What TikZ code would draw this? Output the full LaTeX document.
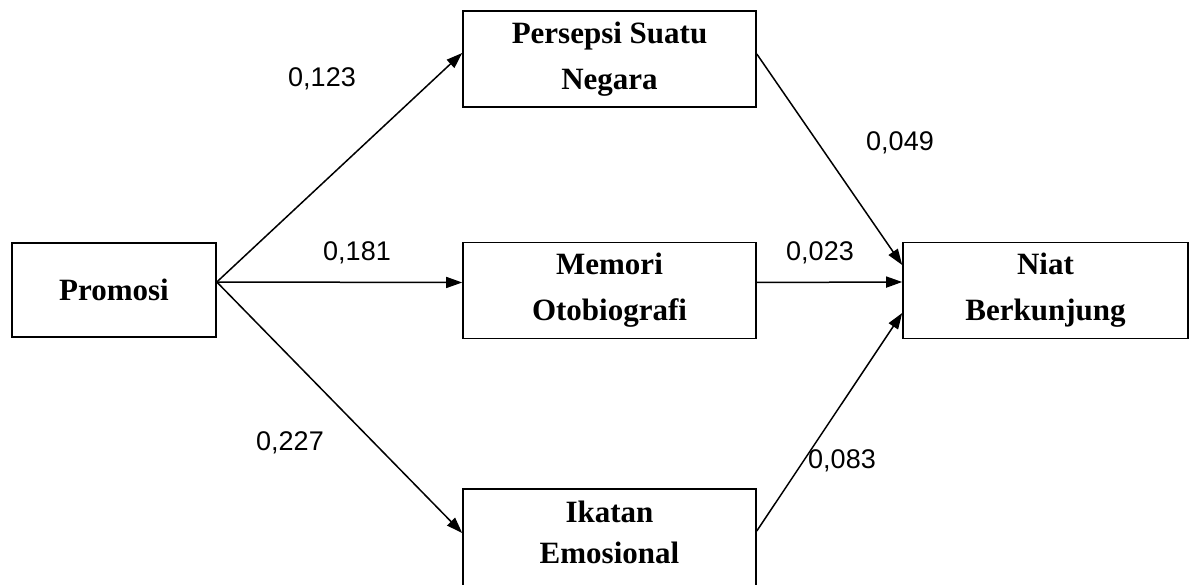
\documentclass[tikz,border=0pt]{standalone}
\usepackage{fontspec}
\setmainfont{Liberation Serif}
\newfontfamily\numfont{Liberation Sans}
\usetikzlibrary{arrows.meta}
\begin{document}
\begin{tikzpicture}[x=1pt,y=-1pt,
  box/.style={draw, line width=1.6pt, minimum width=293pt, minimum height=96pt, inner sep=0pt, align=center, font=\fontsize{31}{46}\selectfont\bfseries},
  boxtext/.style={inner sep=0pt, align=center, font=\fontsize{31}{41}\selectfont\bfseries},
  conn/.style={line width=1.5pt, -{Triangle[length=16pt,width=11pt]}},
  lbl/.style={font=\numfont\fontsize{27}{30}\selectfont, inner sep=0pt}]
\useasboundingbox (0,0) rectangle (1189,585);
\clip (0,0) rectangle (1189,585);
\node[box, minimum width=204pt, minimum height=94pt] (p) at (114,290) {Promosi};
\node[box] (ps) at (609.5,59) {Persepsi Suatu\\Negara};
\node[box] (m) at (609.5,290.5) {Memori\\Otobiografi};
\node[box, minimum width=285pt] (n) at (1045.5,290.5) {Niat\\Berkunjung};
\node[box, minimum height=100pt] (ik) at (609.5,539) {};
\node[boxtext] (ikt) at (609.5,532) {Ikatan\\Emosional};
\coordinate (pst) at ([yshift=8pt]p.east);
\draw[conn] (pst) -- ([yshift=6pt]ps.west);
\draw[conn] (pst) -- ([yshift=8pt]m.west);
\draw[conn] (pst) -- ([yshift=6pt]ik.west);
\draw[conn] ([yshift=5pt]ps.east) -- ([yshift=25.5pt]n.west);
\draw[conn] ([yshift=8pt]m.east) -- ([yshift=8.5pt]n.west);
\draw[conn] ([yshift=8pt]ik.east) -- ([yshift=-22.5pt]n.west);
\node[lbl] (l1) at (322,79) {0,123};
\node[lbl] (l2) at (357,253) {0,181};
\node[lbl] (l3) at (290,443) {0,227};
\node[lbl] (l4) at (900,143) {0,049};
\node[lbl] (l5) at (820,253) {0,023};
\node[lbl] (l6) at (842,461) {0,083};
\end{tikzpicture}
\end{document}
